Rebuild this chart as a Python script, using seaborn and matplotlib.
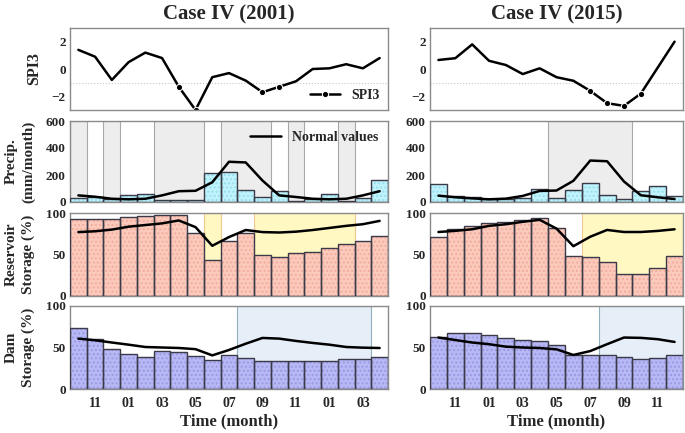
import numpy as np
import seaborn as sns
import matplotlib.pyplot as plt
from matplotlib.ticker import MultipleLocator

sns.set_theme(style="white")
plt.rcParams["font.family"] = ["Liberation Serif", "DejaVu Serif"]
plt.rcParams["font.weight"] = "bold"
plt.rcParams["axes.labelweight"] = "bold"
plt.rcParams["axes.titleweight"] = "bold"
plt.rcParams["xtick.direction"] = "in"
plt.rcParams["ytick.direction"] = "in"

# Case IV (2001): Oct 2000 - Apr 2002
months_2001 = ["10", "11", "12", "01", "02", "03", "04", "05", "06", "07",
               "08", "09", "10", "11", "12", "01", "02", "03", "04"]
spi_2001 = [1.4, 0.9, -0.8, 0.5, 1.2, 0.8, -1.3, -3.0, -0.6, -0.3,
            -0.85, -1.7, -1.3, -0.9, 0.0, 0.05, 0.35, 0.05, 0.8]
precip_2001 = [30, 37, 20, 55, 62, 12, 17, 17, 217, 220,
               92, 40, 85, 10, 20, 62, 10, 30, 162]
precip_norm_2001 = [49, 39, 24, 20, 24, 49, 80, 83, 146, 298,
                    293, 159, 49, 37, 24, 20, 24, 49, 80]
res_2001 = [92.7, 92.7, 93, 94.7, 96, 98, 97, 75.7, 43.3, 66.8,
            75.7, 50, 47, 51.4, 53.4, 57.5, 63, 66.8, 71.7]
res_norm_2001 = [77, 78, 80, 83.5, 85.5, 87.5, 91, 83, 60.5, 71,
                 79.5, 77, 76.5, 77.5, 79.5, 82, 84.5, 86.5, 90.5]
dam_2001 = [73, 60.7, 47.8, 41.7, 38.5, 45.7, 45, 39.7, 34.4, 40.5,
            37.7, 33.2, 33.2, 34, 33.6, 34, 36, 35.6, 38.5]
dam_norm_2001 = [60.7, 58.7, 56, 53.4, 50.6, 50, 49.4, 48, 40.5, 47,
                 54.6, 61.5, 60.7, 57.9, 55.5, 53.4, 50.6, 49.8, 49.4]
precip_dry_2001 = [0, 2, 5, 6, 7, 9, 10, 11, 13, 16]
res_low_2001 = [8, 11, 12, 13, 14, 15, 16]
dam_low_2001 = [10, 11, 12, 13, 14, 15, 16, 17]

# Case IV (2015): Oct 2014 - Dec 2015
months_2015 = ["10", "11", "12", "01", "02", "03", "04", "05", "06", "07",
               "08", "09", "10", "11", "12"]
spi_2015 = [0.66, 0.79, 1.8, 0.6, 0.29, -0.37, 0.05, -0.6, -0.86, -1.6,
            -2.5, -2.7, -1.8, 0.1, 2.0]
precip_2015 = [137, 45, 35, 22, 22, 27, 95, 27, 90, 142, 55, 25, 80, 115, 42]
precip_norm_2015 = [47, 35, 27, 20, 25, 45, 82, 85, 157, 307, 302, 152, 50, 35, 22]
res_2015 = [71, 81, 84.5, 87.8, 89.4, 91.4, 93.5, 82, 47.8, 47,
            41, 26.5, 26.5, 34, 48.6]
res_norm_2015 = [77.1, 78.5, 80.4, 84.5, 86.5, 89.4, 91.8, 81.2, 60, 71.4,
                 79.6, 77.1, 77.1, 78.4, 80.4]
dam_2015 = [62.9, 68, 68, 65, 62, 59, 58.4, 53.5, 41, 41, 40.4, 38, 36.7, 37.5, 40.8]
dam_norm_2015 = [62, 59, 56, 54, 51, 50, 49.4, 47.8, 41, 45.7, 54, 62, 61.6, 60, 56.7]
precip_dry_2015 = [7, 8, 9, 10, 11]
res_low_2015 = [9, 10, 11, 12, 13, 14]
dam_low_2015 = [10, 11, 12, 13, 14]


def shade(ax, idx, face, edge):
    # group contiguous months into one band
    runs = []
    for i in idx:
        if runs and i == runs[-1][1] + 1:
            runs[-1][1] = i
        else:
            runs.append([i, i])
    for a, b in runs:
        ax.axvspan(a - 0.5, b + 0.5, facecolor=face, edgecolor=edge, lw=0.8, zorder=0)


def bars(ax, x, vals, face, dots):
    sns.barplot(x=x, y=vals, native_scale=True, width=1, color=face, saturation=1,
                edgecolor=dots, hatch="....", linewidth=0, errorbar=None, ax=ax, zorder=2)
    sns.barplot(x=x, y=vals, native_scale=True, width=1, color="#3a3a48", saturation=1,
                fill=False, linewidth=1.0, errorbar=None, ax=ax, zorder=3)


fig = plt.figure(figsize=(6.85, 4.33), dpi=100)
H = 433.0
rows = [(28, 110), (121, 202), (213, 296), (306, 389)]
cols = [(70, 388), (430, 683)]

cases = [
    ("Case IV (2001)", months_2001, spi_2001, precip_2001, precip_norm_2001,
     res_2001, res_norm_2001, dam_2001, dam_norm_2001,
     precip_dry_2001, res_low_2001, dam_low_2001),
    ("Case IV (2015)", months_2015, spi_2015, precip_2015, precip_norm_2015,
     res_2015, res_norm_2015, dam_2015, dam_norm_2015,
     precip_dry_2015, res_low_2015, dam_low_2015),
]

for c, case in enumerate(cases):
    (title, months, spi, pr, prn, res, resn, dam, damn, dry, rlow, dlow) = case
    n = len(months)
    x = np.arange(n)
    x0, x1 = cols[c]
    axes = []
    for (y0, y1) in rows:
        ax = fig.add_axes([x0 / 685, 1 - y1 / H, (x1 - x0) / 685, (y1 - y0) / H])
        axes.append(ax)
    ax_spi, ax_pr, ax_res, ax_dam = axes

    # SPI3
    ax_spi.axhline(-1, color="#c8c8c8", lw=0.8, ls=":", zorder=1)
    sns.lineplot(x=x, y=spi, color="black", lw=1.8, marker="o", ms=4.5,
                 markevery=[v < -1 for v in spi], label="SPI3", ax=ax_spi)
    ax_spi.set_ylim(-3, 3)
    ax_spi.yaxis.set_major_locator(MultipleLocator(2))
    ax_spi.yaxis.set_minor_locator(MultipleLocator(1))
    ax_spi.set_title(title, fontsize=15, pad=6)

    # precipitation
    shade(ax_pr, dry, "#ededed", "#a8a8a8")
    bars(ax_pr, x, pr, "#c0f3fb", "#98dfee")
    sns.lineplot(x=x, y=prn, color="black", lw=1.8, label="Normal values", ax=ax_pr, zorder=4)
    ax_pr.set_ylim(0, 600)
    ax_pr.yaxis.set_major_locator(MultipleLocator(200))
    ax_pr.yaxis.set_minor_locator(MultipleLocator(100))

    # reservoir storage
    shade(ax_res, rlow, "#fff8c2", "#f0c890")
    bars(ax_res, x, res, "#fccabc", "#f3ad9c")
    sns.lineplot(x=x, y=resn, color="black", lw=1.8, ax=ax_res, zorder=4)
    ax_res.set_ylim(0, 100)
    ax_res.yaxis.set_major_locator(MultipleLocator(50))
    ax_res.yaxis.set_minor_locator(MultipleLocator(10))

    # dam storage
    shade(ax_dam, dlow, "#e6eef8", "#90b0bc")
    bars(ax_dam, x, dam, "#b8b8f5", "#9a9ae6")
    sns.lineplot(x=x, y=damn, color="black", lw=1.8, ax=ax_dam, zorder=4)
    ax_dam.set_ylim(0, 100)
    ax_dam.yaxis.set_major_locator(MultipleLocator(50))
    ax_dam.yaxis.set_minor_locator(MultipleLocator(10))

    for ax in axes:
        ax.set_xlim(-0.5, n - 0.5)
        ax.set_xlabel("")
        ax.set_ylabel("")
        ax.tick_params(axis="y", which="major", length=5, width=0.8, color="#666666",
                       labelsize=9.5, pad=3)
        ax.tick_params(axis="y", which="minor", length=3, width=0.6, color="#666666")
        ax.tick_params(axis="x", length=0)
        for s in ax.spines.values():
            s.set_color("#8a8a8a")
            s.set_linewidth(1.0)
        ax.set_xticks(x[1::2])
        if ax is ax_dam:
            ax.set_xticklabels(months[1::2], fontsize=10)
            ax.tick_params(axis="x", pad=6)
        else:
            ax.set_xticklabels([])
        if ax.get_legend() is not None:
            ax.get_legend().remove()

    ax_dam.set_xlabel("Time (month)", fontsize=12, labelpad=2)

    if c == 0:
        ax_spi.legend(loc="lower right", frameon=False, fontsize=10, handlelength=2.2,
                      borderaxespad=0.2)
        ax_pr.legend(loc="upper right", frameon=False, fontsize=10, handlelength=2.2,
                     borderaxespad=0.3)
        ax_spi.set_ylabel("SPI3", fontsize=11.5)
        ax_pr.set_ylabel("Precip.\n(mm/month)", fontsize=11, linespacing=1.35)
        ax_res.set_ylabel("Reservoir\nStorage (%)", fontsize=11, linespacing=1.35)
        ax_dam.set_ylabel("Dam\nStorage (%)", fontsize=11, linespacing=1.35)
        ax_spi.yaxis.set_label_coords(-0.088, 0.5)
        for ax in (ax_pr, ax_res, ax_dam):
            ax.yaxis.set_label_coords(-0.11, 0.5)

fig.savefig("out.png", dpi=100)
